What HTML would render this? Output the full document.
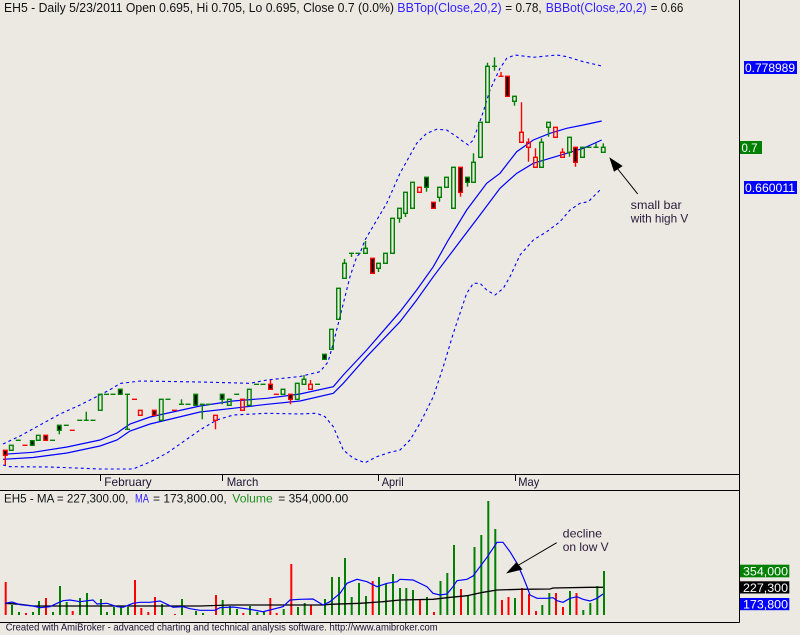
<!DOCTYPE html>
<html><head><meta charset="utf-8"><style>
html,body{margin:0;padding:0;background:#ECE9E3;}
svg{display:block;}
text{font-family:"Liberation Sans",Arial,sans-serif;}
</style></head><body>
<svg width="800" height="635" viewBox="0 0 800 635" xmlns="http://www.w3.org/2000/svg">
<rect x="0" y="0" width="800" height="635" fill="#ECE9E3"/>

<!-- frame lines -->
<g stroke="#000" stroke-width="1" fill="none" shape-rendering="crispEdges">
<line x1="739.5" y1="0" x2="739.5" y2="622.5"/>
<line x1="0" y1="474.5" x2="739.5" y2="474.5"/>
<line x1="0" y1="490.5" x2="739.5" y2="490.5"/>
<line x1="0" y1="622.5" x2="739.5" y2="622.5"/>
<line x1="100.5" y1="474.5" x2="100.5" y2="481"/>
<line x1="222.5" y1="474.5" x2="222.5" y2="481"/>
<line x1="378.5" y1="474.5" x2="378.5" y2="481"/>
<line x1="515.5" y1="474.5" x2="515.5" y2="481"/>
</g>

<!-- title -->
<text x="4" y="12" font-size="13" fill="#111" textLength="390" lengthAdjust="spacingAndGlyphs">EH5 - Daily 5/23/2011 Open 0.695, Hi 0.705, Lo 0.695, Close 0.7 (0.0%)</text>
<text x="397.3" y="12" font-size="13" fill="#3322ff" textLength="104.4" lengthAdjust="spacingAndGlyphs">BBTop(Close,20,2)</text>
<text x="505.3" y="12" font-size="13" fill="#111" textLength="36.4" lengthAdjust="spacingAndGlyphs">= 0.78,</text>
<text x="545.7" y="12" font-size="13" fill="#3322ff" textLength="101" lengthAdjust="spacingAndGlyphs">BBBot(Close,20,2)</text>
<text x="650.7" y="12" font-size="13" fill="#111" textLength="32.6" lengthAdjust="spacingAndGlyphs">= 0.66</text>

<!-- date labels -->
<text x="104.3" y="486" font-size="12" fill="#1a1030" textLength="47.4" lengthAdjust="spacingAndGlyphs">February</text>
<text x="226.7" y="486" font-size="12" fill="#1a1030" textLength="31.6" lengthAdjust="spacingAndGlyphs">March</text>
<text x="381.7" y="486" font-size="12" fill="#1a1030" textLength="22" lengthAdjust="spacingAndGlyphs">April</text>
<text x="518.3" y="486" font-size="12" fill="#1a1030" textLength="21" lengthAdjust="spacingAndGlyphs">May</text>

<!-- bands -->
<g fill="none" stroke="#0000ff" stroke-width="1.2">
<polyline points="3,454.3 33,452.3 67,447 100,440 117,433 130,424 150,417 200,406 233,401 267,398.3 300,394 333.3,386.7 343.3,375 366.7,350 400,311.7 416.7,290 433.3,266.7 448.3,240 466.7,210 486.7,183.3 500,173.3 516.7,151.7 533.3,140 550,133.3 566.7,128.3 583.3,125 601.7,121"/>
<polyline points="3,459.3 33,457.5 67,453 100,446 117,440 130,431 150,424 200,412 233,408.3 267,404.3 300,401 333.3,393.3 343.3,383.3 366.7,356.7 400,321.7 416.7,300 433.3,276.7 461,240 480,215 500,188.3 516.7,173.3 533.3,163.3 550,158.3 566.7,153.3 583.3,148.3 601.7,140"/>
</g>
<g fill="none" stroke="#0000ff" stroke-width="1.1" stroke-dasharray="3 3">
<polyline points="3,444 20,436 40,425 60,414 80,405 100,395 113,388 120,383.5 140,381 200,382 250,383.3 267,380 300,376.5 320,371.7 328,362 333.3,343.3 340,316.7 350,276.7 356.7,256.7 360,253.3 365,240 386.7,203.3 400,173.3 416.7,143.3 426.7,133.3 436.7,129.3 446.7,130 456.7,136.7 463.3,141.7 468.3,145 473.3,140 483.3,111.7 490,90 500,68.3 506.7,58.3 515,55 533.3,57.3 556.7,55 566.7,56.7 583.3,61.7 593.3,64 601.7,66"/>
<polyline points="3,465 10,466.7 50,467 100,469 133,469 150,462 166.7,453.3 200,430 216.7,420 233.3,415 266.7,413.3 300,414 316.7,413.3 325,416.7 333.3,426.7 343.3,450 353.3,458.3 365,462.7 376.7,456.7 390,452.3 400,450 410,440 420,423.3 433.3,396.7 443.3,366.7 453.3,333.3 460,313.3 466.7,293.3 473.3,283.3 480,283.3 486.7,290 495,295 503.3,288.3 510,276.7 520,255 533.3,240 546.7,231.7 560,221.7 570,210 580,203.3 588.3,201.7 595,195 601.7,188.3"/>
</g>

<!-- green candles -->
<g stroke="#008000" stroke-width="1.4" fill="none">
<rect x="9.5" y="445.3" width="3.6" height="5"/>
<line x1="15.8" y1="440.3" x2="20.8" y2="440.3"/>
<rect x="30.5" y="440.7" width="3.6" height="4.6" fill="#000"/>
<rect x="36.5" y="435.3" width="3.6" height="5"/>
<line x1="50" y1="440.3" x2="55" y2="440.3"/>
<rect x="57.5" y="425.3" width="3.6" height="5" fill="#000"/>
<line x1="59.3" y1="430.3" x2="59.3" y2="434.3"/>
<line x1="63.8" y1="425.3" x2="68.8" y2="425.3"/>
<line x1="77.2" y1="420.3" x2="82.2" y2="420.3"/>
<line x1="83.8" y1="420.3" x2="88.8" y2="420.3"/>
<line x1="86.3" y1="411.7" x2="86.3" y2="420.3"/>
<line x1="90.5" y1="420.3" x2="95.5" y2="420.3"/>
<rect x="98.5" y="394.3" width="3.6" height="16"/>
<line x1="104" y1="394.3" x2="109" y2="394.3"/>
<line x1="110.5" y1="394.3" x2="115.5" y2="394.3"/>
<rect x="118.5" y="389.3" width="3.6" height="5" fill="#000"/>
<line x1="127.3" y1="394.3" x2="127.3" y2="429.3"/>
<line x1="125" y1="429.3" x2="130" y2="429.3"/>
<line x1="125" y1="394.3" x2="130" y2="394.3"/>
<rect x="159.5" y="399.3" width="3.6" height="21"/>
<line x1="165.5" y1="399.3" x2="170.5" y2="399.3"/>
<line x1="179" y1="404.3" x2="184" y2="404.3"/>
<line x1="181.5" y1="399.3" x2="181.5" y2="404.3"/>
<line x1="185.5" y1="404.3" x2="190.5" y2="404.3"/>
<rect x="193.9" y="394.3" width="3.6" height="11" fill="#000"/>
<line x1="199.8" y1="404.3" x2="204.8" y2="404.3"/>
<line x1="202.3" y1="404.3" x2="202.3" y2="419.3"/>
<line x1="206.2" y1="404.3" x2="211.2" y2="404.3"/>
<rect x="220.4" y="394.3" width="3.6" height="5" fill="#000"/>
<line x1="222.2" y1="399.3" x2="222.2" y2="404.3"/>
<rect x="227.5" y="399.3" width="3.6" height="6"/>
<line x1="234.2" y1="394.3" x2="239.2" y2="394.3"/>
<rect x="247.5" y="389.3" width="3.6" height="16"/>
<line x1="254" y1="384.3" x2="259" y2="384.3"/>
<line x1="260.5" y1="384.3" x2="265.5" y2="384.3"/>
<rect x="281.2" y="389.3" width="3.6" height="5"/>
<rect x="295.5" y="383.3" width="3.6" height="16"/>
<rect x="302.2" y="379.3" width="3.6" height="5"/>
<line x1="304" y1="375" x2="304" y2="379.3"/>
<line x1="315" y1="384.3" x2="320" y2="384.3"/>
<rect x="322.7" y="354.3" width="3.6" height="5" fill="#000"/>
<rect x="329.7" y="329.3" width="3.6" height="20"/>
<rect x="336.7" y="288.3" width="3.6" height="31"/>
<rect x="342.7" y="263.3" width="3.6" height="15"/>
<line x1="344.5" y1="259" x2="344.5" y2="263.3"/>
<line x1="349" y1="253.3" x2="354" y2="253.3"/>
<line x1="351.5" y1="253.3" x2="351.5" y2="257"/>
<line x1="355.5" y1="253.3" x2="360.5" y2="253.3"/>
<rect x="363.7" y="248.3" width="3.6" height="5"/>
<line x1="365.5" y1="241" x2="365.5" y2="248.3"/>
<rect x="376.7" y="263.3" width="3.6" height="5"/>
<line x1="378.5" y1="268.3" x2="378.5" y2="272"/>
<rect x="383.7" y="253.3" width="3.6" height="10"/>
<rect x="390.7" y="218.3" width="3.6" height="35"/>
<rect x="397.7" y="208.3" width="3.6" height="10"/>
<line x1="399.5" y1="218.3" x2="399.5" y2="222.7"/>
<rect x="403.7" y="192.3" width="3.6" height="21"/>
<line x1="405.5" y1="213.3" x2="405.5" y2="217"/>
<rect x="410.7" y="182.3" width="3.6" height="26"/>
<rect x="424.7" y="177.3" width="3.6" height="10" fill="#000"/>
<line x1="426.5" y1="187.3" x2="426.5" y2="191.7"/>
<rect x="437.7" y="187.3" width="3.6" height="10"/>
<line x1="439.5" y1="197.3" x2="439.5" y2="201.7"/>
<rect x="444.7" y="177.3" width="3.6" height="10"/>
<rect x="451.7" y="167.3" width="3.6" height="41"/>
<rect x="465.7" y="177.3" width="3.6" height="5" fill="#000"/>
<line x1="467.5" y1="182.3" x2="467.5" y2="186.7"/>
<rect x="471.7" y="162.3" width="3.6" height="20"/>
<line x1="473.5" y1="153.3" x2="473.5" y2="162.3"/>
<rect x="478.7" y="122.3" width="3.6" height="35"/>
<rect x="485.7" y="66.3" width="3.6" height="56"/>
<line x1="487.5" y1="62.7" x2="487.5" y2="66.3"/>
<line x1="492" y1="66.3" x2="497" y2="66.3"/>
<line x1="494.5" y1="57.3" x2="494.5" y2="70.7"/>
<rect x="512.7" y="96.3" width="3.6" height="5"/>
<line x1="514.5" y1="101.3" x2="514.5" y2="105.7"/>
<rect x="539.7" y="142.3" width="3.6" height="25"/>
<line x1="541.5" y1="138.3" x2="541.5" y2="142.3"/>
<rect x="546.7" y="122.3" width="3.6" height="5"/>
<line x1="548.5" y1="127.3" x2="548.5" y2="136.7"/>
<rect x="567.7" y="137.3" width="3.6" height="15"/>
<line x1="569.5" y1="152.3" x2="569.5" y2="156.7"/>
<rect x="580.7" y="147.3" width="3.6" height="10"/>
<line x1="586.5" y1="147.3" x2="591.5" y2="147.3"/>
<line x1="593.5" y1="147.3" x2="598.5" y2="147.3"/>
<line x1="596" y1="143.3" x2="596" y2="147.3"/>
<rect x="601.5" y="147.3" width="3.6" height="5"/>
<line x1="603.3" y1="143.3" x2="603.3" y2="147.3"/>
</g>

<!-- red candles -->
<g stroke="#ff0000" stroke-width="1.4" fill="none">
<rect x="3.5" y="450.3" width="3.6" height="5" fill="#000"/>
<line x1="5.3" y1="455.3" x2="5.3" y2="465"/>
<line x1="22.5" y1="445.3" x2="27.5" y2="445.3"/>
<rect x="43.9" y="435.3" width="3.6" height="5" fill="#000"/>
<line x1="69.8" y1="430.3" x2="74.8" y2="430.3"/>
<line x1="132" y1="399.3" x2="137" y2="399.3"/>
<rect x="138.5" y="410.3" width="3.6" height="5"/>
<rect x="152.5" y="410.3" width="3.6" height="5" fill="#000"/>
<line x1="172" y1="410.3" x2="177" y2="410.3"/>
<rect x="213.7" y="415.3" width="3.6" height="5"/>
<line x1="215.5" y1="420.3" x2="215.5" y2="429.3"/>
<rect x="240.7" y="399.3" width="3.6" height="11"/>
<rect x="268.7" y="384.3" width="3.6" height="5" fill="#000"/>
<line x1="270.5" y1="380" x2="270.5" y2="384.3"/>
<line x1="273.8" y1="394.3" x2="278.8" y2="394.3"/>
<rect x="288.7" y="394.3" width="3.6" height="5" fill="#000"/>
<line x1="290.5" y1="399.3" x2="290.5" y2="404.3"/>
<rect x="308.7" y="384.3" width="3.6" height="5"/>
<line x1="310.5" y1="380" x2="310.5" y2="384.3"/>
<rect x="370.7" y="258.3" width="3.6" height="15" fill="#000"/>
<rect x="417.7" y="187.3" width="3.6" height="5"/>
<rect x="431.7" y="202.3" width="3.6" height="6" fill="#000"/>
<rect x="458.7" y="167.3" width="3.6" height="25" fill="#000"/>
<line x1="460.5" y1="192.3" x2="460.5" y2="196.7"/>
<line x1="498.5" y1="76.3" x2="503.5" y2="76.3"/>
<line x1="501" y1="72" x2="501" y2="76.3"/>
<rect x="505.7" y="76.3" width="3.6" height="20" fill="#000"/>
<rect x="519.7" y="132.3" width="3.6" height="10"/>
<line x1="521.5" y1="102.3" x2="521.5" y2="132.3"/>
<rect x="526.7" y="142.3" width="3.6" height="5"/>
<line x1="528.5" y1="138.3" x2="528.5" y2="142.3"/>
<line x1="528.5" y1="147.3" x2="528.5" y2="161.7"/>
<rect x="533.7" y="157.3" width="3.6" height="10"/>
<line x1="535.5" y1="148.3" x2="535.5" y2="157.3"/>
<rect x="553.7" y="127.3" width="3.6" height="10"/>
<rect x="560.7" y="152.3" width="3.6" height="5"/>
<line x1="562.5" y1="148.3" x2="562.5" y2="152.3"/>
<rect x="573.7" y="147.3" width="3.6" height="15" fill="#000"/>
<line x1="575.5" y1="162.3" x2="575.5" y2="166.7"/>
</g>

<!-- top annotation -->
<line x1="637.7" y1="194" x2="617" y2="168" stroke="#000" stroke-width="1"/>
<polygon points="609.3,157.3 622.7,166 614,171.7" fill="#000"/>
<text x="630.7" y="209" font-size="12" fill="#2a1a3a" textLength="51" lengthAdjust="spacingAndGlyphs">small bar</text>
<text x="630.7" y="222.5" font-size="12" fill="#2a1a3a" textLength="57.6" lengthAdjust="spacingAndGlyphs">with high V</text>

<!-- right price labels -->
<rect x="744" y="61" width="53" height="13" fill="#0000ff"/>
<text x="745" y="72" font-size="12" fill="#fff" textLength="50" lengthAdjust="spacingAndGlyphs">0.778989</text>
<rect x="740" y="141" width="22" height="13" fill="#008000"/>
<text x="741.5" y="152" font-size="12" fill="#fff" textLength="16" lengthAdjust="spacingAndGlyphs">0.7</text>
<rect x="744" y="181" width="53" height="13" fill="#0000ff"/>
<text x="745" y="192" font-size="12" fill="#fff" textLength="50" lengthAdjust="spacingAndGlyphs">0.660011</text>

<!-- volume panel title -->
<text x="4" y="502.7" font-size="12" fill="#111" textLength="124.3" lengthAdjust="spacingAndGlyphs">EH5 - MA = 227,300.00,</text>
<text x="135" y="502.7" font-size="12" fill="#3322ff" textLength="14" lengthAdjust="spacingAndGlyphs">MA</text>
<text x="153" y="502.7" font-size="12" fill="#111" textLength="73.7" lengthAdjust="spacingAndGlyphs">= 173,800.00,</text>
<text x="232.3" y="502.7" font-size="12" fill="#1f8f1f" textLength="40.4" lengthAdjust="spacingAndGlyphs">Volume</text>
<text x="278.3" y="502.7" font-size="12" fill="#111" textLength="70" lengthAdjust="spacingAndGlyphs">= 354,000.00</text>

<!-- volume bars -->
<g stroke-width="2" fill="none">
<g stroke="#ff0000">
<line x1="5.7" y1="582" x2="5.7" y2="615"/>
<line x1="26" y1="613" x2="26" y2="615"/>
<line x1="46" y1="598" x2="46" y2="615"/>
<line x1="72.7" y1="611" x2="72.7" y2="615"/>
<line x1="135" y1="580" x2="135" y2="615"/>
<line x1="141.3" y1="608" x2="141.3" y2="615"/>
<line x1="148.3" y1="612" x2="148.3" y2="615"/>
<line x1="155" y1="597" x2="155" y2="615"/>
<line x1="175" y1="614" x2="175" y2="615"/>
<line x1="216" y1="595" x2="216" y2="615"/>
<line x1="243.3" y1="613" x2="243.3" y2="615"/>
<line x1="270.3" y1="598" x2="270.3" y2="615"/>
<line x1="276.7" y1="613" x2="276.7" y2="615"/>
<line x1="291.3" y1="564" x2="291.3" y2="615"/>
<line x1="311" y1="605" x2="311" y2="615"/>
<line x1="372.7" y1="581" x2="372.7" y2="615"/>
<line x1="420" y1="599" x2="420" y2="615"/>
<line x1="434" y1="612" x2="434" y2="615"/>
<line x1="461" y1="589" x2="461" y2="615"/>
<line x1="502" y1="600" x2="502" y2="615"/>
<line x1="508.5" y1="597" x2="508.5" y2="615"/>
<line x1="522" y1="588" x2="522" y2="615"/>
<line x1="529" y1="594" x2="529" y2="615"/>
<line x1="536" y1="611" x2="536" y2="615"/>
<line x1="556" y1="593" x2="556" y2="615"/>
<line x1="563" y1="607" x2="563" y2="615"/>
<line x1="576.5" y1="593" x2="576.5" y2="615"/>
</g>
<g stroke="#008000">
<line x1="12" y1="605" x2="12" y2="615"/>
<line x1="19" y1="612" x2="19" y2="615"/>
<line x1="33" y1="612" x2="33" y2="615"/>
<line x1="39" y1="601" x2="39" y2="615"/>
<line x1="53" y1="612" x2="53" y2="615"/>
<line x1="60" y1="586" x2="60" y2="615"/>
<line x1="66.7" y1="602" x2="66.7" y2="615"/>
<line x1="80" y1="598" x2="80" y2="615"/>
<line x1="87" y1="593" x2="87" y2="615"/>
<line x1="101" y1="599" x2="101" y2="615"/>
<line x1="107" y1="612" x2="107" y2="615"/>
<line x1="114" y1="607" x2="114" y2="615"/>
<line x1="121" y1="607" x2="121" y2="615"/>
<line x1="128" y1="607" x2="128" y2="615"/>
<line x1="162" y1="604" x2="162" y2="615"/>
<line x1="182" y1="599" x2="182" y2="615"/>
<line x1="196" y1="611" x2="196" y2="615"/>
<line x1="203" y1="613" x2="203" y2="615"/>
<line x1="222.7" y1="600" x2="222.7" y2="615"/>
<line x1="230" y1="606" x2="230" y2="615"/>
<line x1="237" y1="609" x2="237" y2="615"/>
<line x1="250" y1="606" x2="250" y2="615"/>
<line x1="257.3" y1="612" x2="257.3" y2="615"/>
<line x1="264" y1="612" x2="264" y2="615"/>
<line x1="283.7" y1="609" x2="283.7" y2="615"/>
<line x1="298" y1="607" x2="298" y2="615"/>
<line x1="304.7" y1="603" x2="304.7" y2="615"/>
<line x1="325" y1="599" x2="325" y2="615"/>
<line x1="332" y1="577" x2="332" y2="615"/>
<line x1="339" y1="577" x2="339" y2="615"/>
<line x1="345" y1="558" x2="345" y2="615"/>
<line x1="351.7" y1="597" x2="351.7" y2="615"/>
<line x1="359" y1="583" x2="359" y2="615"/>
<line x1="366" y1="596" x2="366" y2="615"/>
<line x1="379" y1="577" x2="379" y2="615"/>
<line x1="386" y1="584" x2="386" y2="615"/>
<line x1="393" y1="574" x2="393" y2="615"/>
<line x1="400" y1="588" x2="400" y2="615"/>
<line x1="406.3" y1="588" x2="406.3" y2="615"/>
<line x1="413" y1="590" x2="413" y2="615"/>
<line x1="427" y1="597" x2="427" y2="615"/>
<line x1="440.5" y1="581" x2="440.5" y2="615"/>
<line x1="447.3" y1="573" x2="447.3" y2="615"/>
<line x1="454" y1="545" x2="454" y2="615"/>
<line x1="468" y1="596" x2="468" y2="615"/>
<line x1="474.5" y1="547" x2="474.5" y2="615"/>
<line x1="481.3" y1="535" x2="481.3" y2="615"/>
<line x1="488.3" y1="501" x2="488.3" y2="615"/>
<line x1="495.3" y1="529" x2="495.3" y2="615"/>
<line x1="515" y1="598" x2="515" y2="615"/>
<line x1="542.3" y1="605" x2="542.3" y2="615"/>
<line x1="549.3" y1="593" x2="549.3" y2="615"/>
<line x1="570" y1="591" x2="570" y2="615"/>
<line x1="583.3" y1="610" x2="583.3" y2="615"/>
<line x1="590.3" y1="603" x2="590.3" y2="615"/>
<line x1="597.3" y1="586" x2="597.3" y2="615"/>
<line x1="604" y1="571" x2="604" y2="615"/>
</g>
</g>

<!-- volume MAs -->
<polyline fill="none" stroke="#000" stroke-width="1.3" points="5,603.3 20,604.3 33,606 60,606 100,606 150,606 200,606 230,605 283,605 323,605 330,604.3 360,603.3 383,601.7 400,600 433,599.3 447,597.7 467,595.7 483,592.3 497,590 520,589.3 550,589 553,588 590,587.3 603,587.3"/>
<polyline fill="none" stroke="#0000ff" stroke-width="1.2" points="5,603.3 12,602 20,604.7 33,606 40,607.7 50,606.7 57,603.3 63,600.7 70,600 80,601.7 93,600 97,604 107,603.3 117,606.7 123,607.3 133,603.3 140,602.3 150,602.3 160,601 167,604.3 173,607.3 183,606.7 190,608.7 200,610.3 215,610.3 220,607.7 233,607 250,609.3 263,611.7 283,606.7 290,600 300,599.3 313,599 323,605 330,601.7 340,593.3 347,583.3 357,579.3 367,581.7 377,586.7 387,583.3 397,581.7 400,579.3 413,580 427,586.7 433,593.3 440,595 447,594 453,586.7 457,580.7 467,579.3 473,576 480,566.7 487,557.3 493,548.3 497,542.3 503,542.3 510,551.7 517,563.3 523,576.7 527,586.7 530,595 537,598.3 547,598.3 553,597.7 557,600.7 563,602.3 570,598.3 577,596.7 583,599.3 590,601 597,598.3 603,594"/>

<!-- volume annotation -->
<line x1="556.7" y1="542.7" x2="517" y2="566" stroke="#000" stroke-width="1"/>
<polygon points="506,573.5 516.5,562 522.5,569.5" fill="#000"/>
<text x="562.7" y="537.3" font-size="12" fill="#2a1a3a" textLength="39.4" lengthAdjust="spacingAndGlyphs">decline</text>
<text x="562.7" y="550.8" font-size="12" fill="#2a1a3a" textLength="46" lengthAdjust="spacingAndGlyphs">on low V</text>

<!-- right volume labels -->
<rect x="740" y="564.7" width="49.3" height="12.6" fill="#008000"/>
<text x="743" y="575.5" font-size="12" fill="#fff" textLength="45" lengthAdjust="spacingAndGlyphs">354,000</text>
<rect x="740" y="581.3" width="49.3" height="12.2" fill="#000"/>
<text x="743" y="591.8" font-size="12" fill="#fff" textLength="45" lengthAdjust="spacingAndGlyphs">227,300</text>
<rect x="740" y="598" width="49.3" height="12.2" fill="#0000ff"/>
<text x="743" y="608.5" font-size="12" fill="#fff" textLength="45" lengthAdjust="spacingAndGlyphs">173,800</text>

<!-- footer -->
<text x="5.7" y="630.5" font-size="10" fill="#1a1030" textLength="432" lengthAdjust="spacingAndGlyphs">Created with AmiBroker - advanced charting and technical analysis software. http://www.amibroker.com</text>
</svg>
</body></html>
